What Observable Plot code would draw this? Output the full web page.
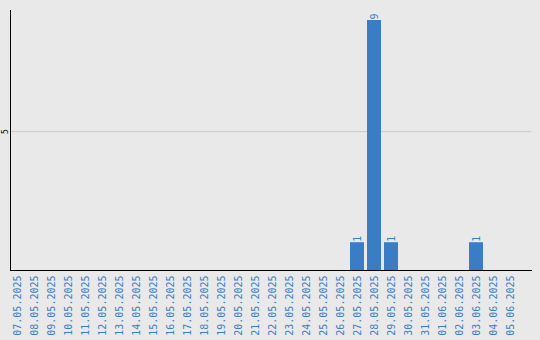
<!DOCTYPE html>
<html>
<head>
<meta charset="utf-8">
<script src="https://cdn.jsdelivr.net/npm/d3@7"></script>
<script src="https://cdn.jsdelivr.net/npm/@observablehq/plot@0.6"></script>
<style>
  html, body { margin: 0; padding: 0; background: #e9e9e9; }
</style>
</head>
<body>
<div id="chart"></div>
<script>
// Daily counts, 07.05.2025 – 05.06.2025
const dates = [
  "07.05.2025", "08.05.2025", "09.05.2025", "10.05.2025", "11.05.2025",
  "12.05.2025", "13.05.2025", "14.05.2025", "15.05.2025", "16.05.2025",
  "17.05.2025", "18.05.2025", "19.05.2025", "20.05.2025", "21.05.2025",
  "22.05.2025", "23.05.2025", "24.05.2025", "25.05.2025", "26.05.2025",
  "27.05.2025", "28.05.2025", "29.05.2025", "30.05.2025", "31.05.2025",
  "01.06.2025", "02.06.2025", "03.06.2025", "04.06.2025", "05.06.2025"
];
const counts = [
  0, 0, 0, 0, 0,
  0, 0, 0, 0, 0,
  0, 0, 0, 0, 0,
  0, 0, 0, 0, 0,
  1, 9, 1, 0, 0,
  0, 0, 1, 0, 0
];
const yTicks = [5];

const data = dates.map((date, i) => ({date, count: counts[i]}));
const blue = "#3a7dc4";

const chart = Plot.plot({
  width: 540,
  height: 340,
  marginTop: 10,
  marginRight: 9,
  marginBottom: 70,
  marginLeft: 10,
  style: {
    background: "#e9e9e9",
    fontFamily: "DejaVu Sans Mono",
    fontSize: "10px"
  },
  x: {type: "band", domain: dates, range: [10, 517], paddingInner: 3 / 17, paddingOuter: 0, label: null},
  y: {domain: [0, 9.36], label: null, axis: null},
  marks: [
    Plot.gridY(yTicks, {stroke: "#c9c9c9", strokeOpacity: 1}),
    Plot.barY(data, {x: "date", y: "count", fill: blue}),
    Plot.text(data.filter(d => d.count > 0), {
      x: "date", y: "count", text: d => String(d.count),
      rotate: -90, textAnchor: "start", dy: -1, fill: blue, fontSize: 10
    }),
    Plot.axisX({tickRotate: -90, tickSize: 0, tickPadding: 5, color: blue, fontSize: 10, label: null}),
    // vertical tick label on the left edge
    Plot.text(yTicks, {
      y: d => d, text: d => String(d), frameAnchor: "left",
      rotate: -90, textAnchor: "middle", lineAnchor: "bottom", dx: -3,
      fill: "black", fontSize: 8
    }),
    Plot.frame({anchor: "left", stroke: "black"}),
    Plot.frame({anchor: "bottom", stroke: "black"})
  ]
});
document.getElementById("chart").appendChild(chart);
</script>
</body>
</html>
